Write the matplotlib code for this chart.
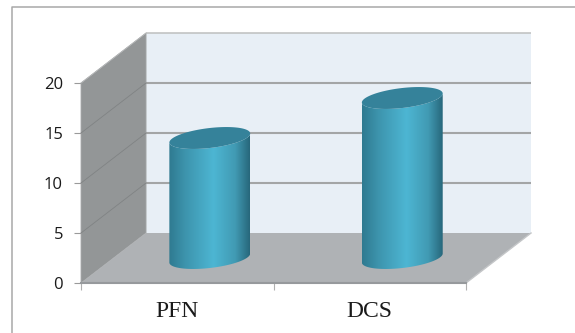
import numpy as np
import matplotlib
matplotlib.use("Agg")
import matplotlib.pyplot as plt
from matplotlib.lines import Line2D
from matplotlib.patches import Polygon
from matplotlib.colors import LinearSegmentedColormap

categories = ["PFN", "DCS"]
values = [12, 16]
y_ticks = [0, 5, 10, 15, 20]

# depth of the 3D box, in axis units
depth_x = 0.338
depth_y = 5.0
# cylinder shape, in axis units
radius = 0.21
ell_b = 1.0
ell_k = 0.45

W, H = 575, 333
fig = plt.figure(figsize=(W / 100, H / 100), dpi=100, facecolor="white")
ax = fig.add_axes([81 / W, 1 - 283 / H, 385 / W, 200 / H])
ax.set_xlim(0, len(categories))
ax.set_ylim(0, 20)
ax.patch.set_visible(False)
for s in ax.spines.values():
    s.set_visible(False)

# outer frame
fig.add_artist(Line2D([12 / W, 12 / W, 1], [0, 1 - 7 / H, 1 - 7 / H], color="#a8a8a8", lw=1.1))

xmax = len(categories)
# back wall, side wall, floor
ax.add_patch(Polygon([(depth_x, depth_y), (xmax + depth_x, depth_y), (xmax + depth_x, 20 + depth_y), (depth_x, 20 + depth_y)],
                     fc="#e8eff6", ec="none", clip_on=False, zorder=1))
ax.add_patch(Polygon([(0, 0), (depth_x, depth_y), (depth_x, 20 + depth_y), (0, 20)],
                     fc="#939697", ec="#a9abac", lw=0.6, clip_on=False, zorder=1))
ax.add_patch(Polygon([(0, 0), (depth_x, depth_y), (xmax + depth_x, depth_y), (xmax, 0)],
                     fc="#afb2b5", ec="none", clip_on=False, zorder=1))
ax.plot([xmax, xmax + depth_x], [0, depth_y], color="#c4c6c8", lw=1, clip_on=False, zorder=2)

# grid lines on back and side walls
for v in y_ticks:
    if v == 0:
        continue
    top = v == y_ticks[-1]
    ax.plot([depth_x, xmax + depth_x], [v + depth_y] * 2, color="#bdbfbf" if top else "#a3a5a6",
            lw=1.1 if top else 1.5, clip_on=False, zorder=2, solid_capstyle="butt")
    ax.plot([0, depth_x], [v, v + depth_y], color="#b5b7b8" if top else "#808384", lw=0.6, clip_on=False, zorder=2)

# front edge of the floor
ax.plot([0, xmax], [0, 0], color="#96999c", lw=1.5, clip_on=False, zorder=3)

cmap = LinearSegmentedColormap.from_list("cyl", [(0, "#2f7a90"), (0.2, "#3d94ad"), (0.55, "#4db6d3"),
                                                 (0.82, "#419ab3"), (1, "#27677b")])
grad = np.linspace(0, 1, 256).reshape(1, -1)
t = np.linspace(0, np.pi, 80)


def rim(cx, cy, tt):
    return cx + radius * np.cos(tt), cy + ell_b * np.sin(tt) + ell_k * np.cos(tt)


for i, val in enumerate(values):
    cx = i + 0.5 + depth_x / 2
    y0 = depth_y / 2
    y1 = y0 + val
    # body: front half of top rim and bottom rim
    xb, yb = rim(cx, y0, -t)
    xt, yt = rim(cx, y1, t[::-1] * -1)
    verts = np.vstack([np.column_stack([xb, yb]), np.column_stack([xt, yt])])
    body = Polygon(verts, closed=True, fc="none", ec="none", transform=ax.transData)
    ax.add_patch(body)
    im = ax.imshow(grad, cmap=cmap, extent=[cx - radius, cx + radius, y0 - 2, y1 + 2],
                   aspect="auto", zorder=4, interpolation="bilinear")
    im.set_clip_path(body)
    # top face
    tt = np.linspace(0, 2 * np.pi, 120)
    xe, ye = rim(cx, y1, tt)
    ax.fill(xe, ye, color="#35829a", lw=0, zorder=5, clip_on=False)

ax.set_xlim(0, xmax)
ax.set_ylim(0, 20)

# ticks and labels
ax.set_yticks(y_ticks)
ax.set_yticklabels([str(v) for v in y_ticks], fontfamily="Open Sans", fontsize=12, color="#1a1a1a")
ax.set_xticks(range(xmax + 1))
ax.set_xticklabels([])
ax.set_xticks([i + 0.5 for i in range(xmax)], minor=True)
ax.set_xticklabels(categories, minor=True, fontfamily="Liberation Serif", fontsize=17, color="#1a1a1a")
ax.tick_params(axis="x", which="major", length=5, width=0.8, color="#b0b0b0")
ax.tick_params(axis="x", which="minor", length=0, pad=13)
ax.tick_params(axis="y", length=5, width=0.8, color="#9a9a9a", pad=8)

fig.savefig("out.png", dpi=100)
